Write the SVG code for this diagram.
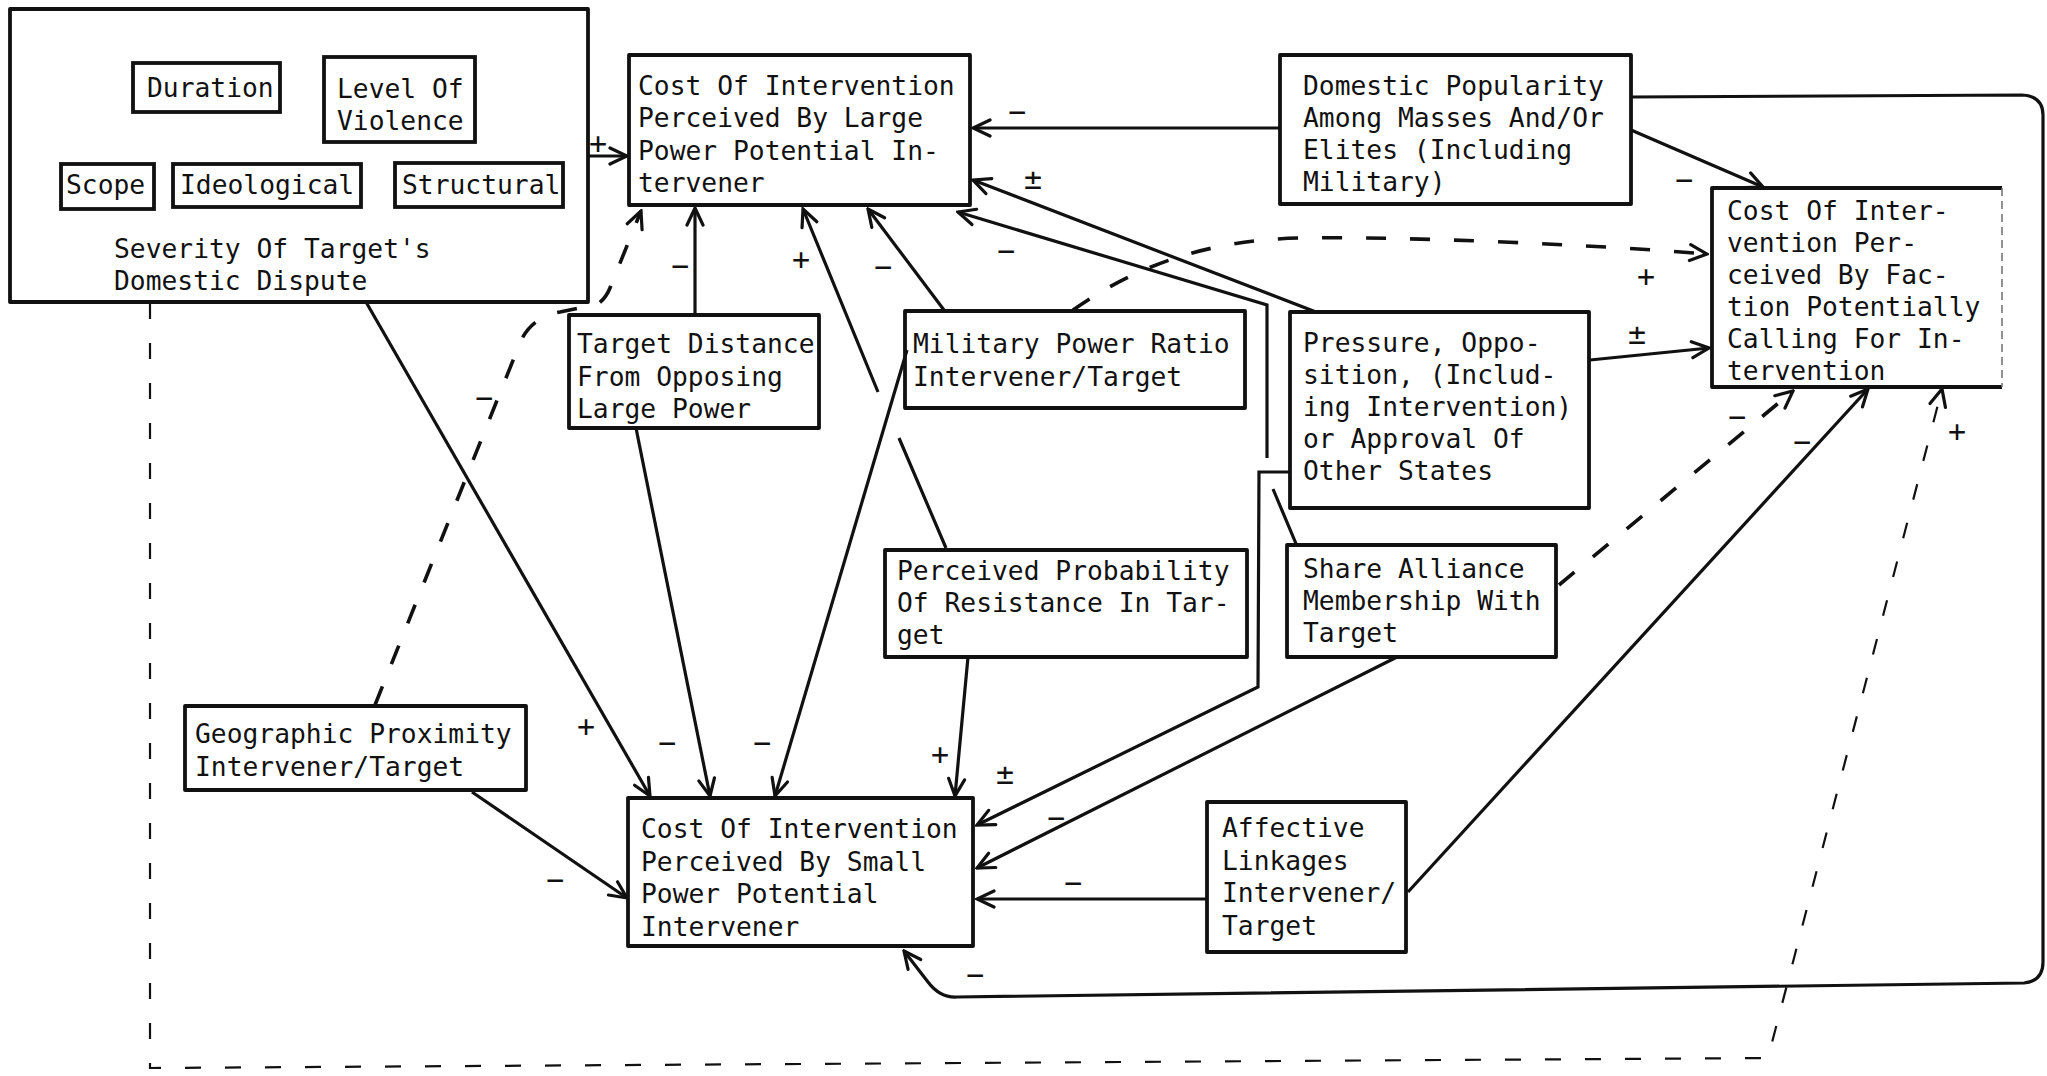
<svg xmlns="http://www.w3.org/2000/svg" width="2047" height="1076" viewBox="0 0 2047 1076">
<style>
.box{fill:none;stroke:#111;stroke-width:3.8;stroke-linejoin:round}
.sub{fill:none;stroke:#111;stroke-width:3.8}
.t{font-family:"DejaVu Sans Mono","Liberation Mono",monospace;font-size:26.3px;fill:#111}
.lbl{font-family:"DejaVu Sans Mono","Liberation Mono",monospace;font-size:30px;fill:#111;text-anchor:middle}
.c{fill:none;stroke:#111;stroke-width:3.2;marker-end:url(#ah)}
.d{fill:none;stroke:#111;stroke-width:3.6;stroke-dasharray:20 24;marker-end:url(#ah)}
.dl{fill:none;stroke:#111;stroke-width:2.2;stroke-dasharray:16 24;marker-end:url(#ah)}
</style>
<defs>
<marker id="ah" viewBox="0 0 22 22" refX="20" refY="11" markerWidth="22" markerHeight="22" markerUnits="userSpaceOnUse" orient="auto">
<path d="M3,3 L20,11 L3,19" fill="none" stroke="#111" stroke-width="3.2" stroke-linecap="round" stroke-dasharray="none"/>
</marker>
</defs>
<rect x="0" y="0" width="2047" height="1076" fill="#fff"/>

<g id="connectors">
<path class="c" d="M588,156 L627,156"/>
<path class="c" d="M1281,128 L973,128"/>
<path class="c" d="M1316,312 L973,180"/>
<path class="c" d="M1297,546 L1273,489 M1267,458 L1267,305 L958,212"/>
<path class="c" d="M1289,472 L1259,472 L1258,687 L977,825"/>
<path class="c" d="M1397,657 L977,868"/>
<path class="c" d="M1208,899 L977,899"/>
<path class="c" d="M968,657 L955,796"/>
<path class="c" d="M907,350 L775,796"/>
<path class="c" d="M636,428 L710,796"/>
<path class="c" d="M366,302 L650,796"/>
<path class="c" d="M472,792 L627,898"/>
<path class="c" d="M695,315 L695,208"/>
<path class="c" d="M946,548 L899,438 M878,392 L803,209"/>
<path class="c" d="M944,310 L868,209"/>
<path class="c" d="M1631,130 L1763,187"/>
<path class="c" d="M1590,360 L1709,348"/>
<path class="d" d="M1073,310 C1130,270 1200,240 1300,238 S1600,245 1707,254"/>
<path class="d" d="M375,705 L518,348 Q528,318 560,312 L598,304 Q606,298 610,288 L641,211"/>
<path class="d" d="M1559,585 L1793,391"/>
<path class="c" d="M1408,892 L1868,389"/>
<path class="c" d="M1631,97 L2022,95 Q2043,96 2043,115 L2043,962 Q2043,981 2024,983 L957,997 Q940,998 928,982 L904,951"/>
<path class="dl" d="M150,303 L150,1068 L1768,1058 L1942,389"/>
</g>

<g id="labels">
<text class="lbl" x="598" y="154">+</text>
<text class="lbl" x="1017" y="122">−</text>
<text class="lbl" x="1033" y="189">±</text>
<text class="lbl" x="680" y="276">−</text>
<text class="lbl" x="801" y="270">+</text>
<text class="lbl" x="883" y="277">−</text>
<text class="lbl" x="1006" y="261">−</text>
<text class="lbl" x="1684" y="190">−</text>
<text class="lbl" x="1646" y="287">+</text>
<text class="lbl" x="1637" y="344">±</text>
<text class="lbl" x="1737" y="427">−</text>
<text class="lbl" x="1802" y="452">−</text>
<text class="lbl" x="1957" y="442" fill="#888">+</text>
<text class="lbl" x="484" y="408">−</text>
<text class="lbl" x="586" y="737">+</text>
<text class="lbl" x="667" y="753">−</text>
<text class="lbl" x="762" y="753">−</text>
<text class="lbl" x="940" y="765">+</text>
<text class="lbl" x="1005" y="784">±</text>
<text class="lbl" x="1056" y="828">−</text>
<text class="lbl" x="1073" y="893">−</text>
<text class="lbl" x="555" y="890">−</text>
<text class="lbl" x="975" y="985">−</text>
</g>

<g id="severity">
<rect class="box" x="10" y="9" width="578" height="293"/>
<g id="duration"><rect class="sub" x="133" y="63" width="147" height="49"/><text class="t" x="147" y="97">Duration</text></g>
<g id="violence"><rect class="sub" x="324" y="57" width="151" height="85"/><text class="t" x="337" y="98">Level Of</text><text class="t" x="337" y="130">Violence</text></g>
<g id="scope"><rect class="sub" x="61" y="164" width="93" height="45"/><text class="t" x="66" y="194">Scope</text></g>
<g id="ideological"><rect class="sub" x="173" y="164" width="188" height="43"/><text class="t" x="180" y="194">Ideological</text></g>
<g id="structural"><rect class="sub" x="395" y="163" width="168" height="44"/><text class="t" x="402" y="194">Structural</text></g>
<text class="t" x="114" y="258">Severity Of Target's</text>
<text class="t" x="114" y="290">Domestic Dispute</text>
</g>

<g id="cost-large">
<rect class="box" x="629" y="55" width="341" height="150"/>
<text class="t" x="638" y="95">Cost Of Intervention</text>
<text class="t" x="638" y="127">Perceived By Large</text>
<text class="t" x="638" y="160">Power Potential In-</text>
<text class="t" x="638" y="192">tervener</text>
</g>

<g id="domestic">
<rect class="box" x="1280" y="55" width="351" height="149"/>
<text class="t" x="1303" y="95">Domestic Popularity</text>
<text class="t" x="1303" y="127">Among Masses And/Or</text>
<text class="t" x="1303" y="159">Elites (Including</text>
<text class="t" x="1303" y="191">Military)</text>
</g>

<g id="cost-faction">
<path class="box" d="M2002,188 L1712,188 L1712,387 L2002,387"/>
<path d="M2002,188 L2002,387" fill="none" stroke="#777" stroke-width="1.6" stroke-dasharray="8 5"/>
<text class="t" x="1727" y="220">Cost Of Inter-</text>
<text class="t" x="1727" y="252">vention Per-</text>
<text class="t" x="1727" y="284">ceived By Fac-</text>
<text class="t" x="1727" y="316">tion Potentially</text>
<text class="t" x="1727" y="348">Calling For In-</text>
<text class="t" x="1727" y="380">tervention</text>
</g>

<g id="target-distance">
<rect class="box" x="569" y="315" width="250" height="113"/>
<text class="t" x="577" y="353">Target Distance</text>
<text class="t" x="577" y="386">From Opposing</text>
<text class="t" x="577" y="418">Large Power</text>
</g>

<g id="military">
<rect class="box" x="905" y="311" width="340" height="97"/>
<text class="t" x="913" y="353">Military Power Ratio</text>
<text class="t" x="913" y="386">Intervener/Target</text>
</g>

<g id="pressure">
<rect class="box" x="1290" y="312" width="299" height="196"/>
<text class="t" x="1303" y="352">Pressure, Oppo-</text>
<text class="t" x="1303" y="384">sition, (Includ-</text>
<text class="t" x="1303" y="416">ing Intervention)</text>
<text class="t" x="1303" y="448">or Approval Of</text>
<text class="t" x="1303" y="480">Other States</text>
</g>

<g id="perceived">
<rect class="box" x="885" y="550" width="362" height="107"/>
<text class="t" x="897" y="580">Perceived Probability</text>
<text class="t" x="897" y="612">Of Resistance In Tar-</text>
<text class="t" x="897" y="644">get</text>
</g>

<g id="alliance">
<rect class="box" x="1287" y="545" width="269" height="112"/>
<text class="t" x="1303" y="578">Share Alliance</text>
<text class="t" x="1303" y="610">Membership With</text>
<text class="t" x="1303" y="642">Target</text>
</g>

<g id="geographic">
<rect class="box" x="185" y="706" width="341" height="84"/>
<text class="t" x="195" y="743">Geographic Proximity</text>
<text class="t" x="195" y="776">Intervener/Target</text>
</g>

<g id="cost-small">
<rect class="box" x="628" y="798" width="345" height="148"/>
<text class="t" x="641" y="838">Cost Of Intervention</text>
<text class="t" x="641" y="871">Perceived By Small</text>
<text class="t" x="641" y="903">Power Potential</text>
<text class="t" x="641" y="936">Intervener</text>
</g>

<g id="affective">
<rect class="box" x="1207" y="802" width="199" height="150"/>
<text class="t" x="1222" y="837">Affective</text>
<text class="t" x="1222" y="870">Linkages</text>
<text class="t" x="1222" y="902">Intervener/</text>
<text class="t" x="1222" y="935">Target</text>
</g>
</svg>
